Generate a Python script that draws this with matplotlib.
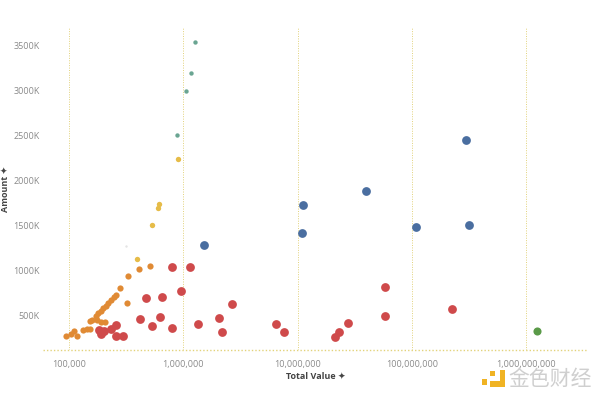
import matplotlib
matplotlib.use("Agg")
import matplotlib.pyplot as plt
from matplotlib.patches import Rectangle
from matplotlib.ticker import FuncFormatter, FixedLocator

plt.rcParams["font.family"] = ["Open Sans", "DejaVu Sans"]

# values (Total Value, Amount)
teal_value = [1.253e6, 1.163e6, 1.052e6, 0.877e6]
teal_amount = [3545e3, 3200e3, 3000e3, 2505e3]

yellow_value = [895e3, 616e3, 599e3, 531e3, 396e3]
yellow_amount = [2240e3, 1745e3, 1700e3, 1510e3, 1127e3]

blue_value = [1.52e6, 11.15e6, 10.84e6, 39.6e6, 296e6, 108.9e6, 318e6]
blue_amount = [1286e3, 1731e3, 1416e3, 1890e3, 2450e3, 1486e3, 1505e3]

green_value = [1.248e9]
green_amount = [329e3]

red_value = [794e3, 1.133e6, 945e3, 468e3, 654e3, 414e3, 622e3, 535e3, 794e3,
             1.349e6, 2.03e6, 2.17e6, 2.64e6, 6.43e6, 7.65e6, 21.0e6, 23.0e6,
             27.3e6, 58.6e6, 58.1e6, 224e6, 258e3, 233e3, 203e3, 191e3, 182e3,
             259e3, 299e3]
red_amount = [1044e3, 1041e3, 769e3, 700e3, 711e3, 466e3, 488e3, 383e3, 363e3,
              410e3, 477e3, 315e3, 630e3, 407e3, 315e3, 266e3, 321e3,
              418e3, 815e3, 499e3, 574e3, 394e3, 355e3, 329e3, 296e3, 340e3,
              274e3, 274e3]

orange_value = [93.6e3, 103.5e3, 110.6e3, 118.4e3, 131.7e3, 142.7e3, 152.2e3,
                151.6e3, 160.1e3, 172.1e3, 179.9e3, 189.2e3, 198.1e3, 209.2e3,
                219e3, 231e3, 248e3, 258e3, 281e3, 321e3, 330e3, 412e3, 514e3,
                174.6e3, 189.2e3, 206e3]
orange_amount = [279e3, 301e3, 329e3, 277e3, 340e3, 357e3, 357e3,
                 435e3, 452e3, 496e3, 524e3, 552e3, 580e3, 607e3,
                 635e3, 669e3, 707e3, 730e3, 811e3, 644e3, 941e3, 1021e3, 1054e3,
                 446e3, 424e3, 433e3]

gray_value = [313e3]
gray_amount = [1278e3]

x_ticks = [1e5, 1e6, 1e7, 1e8, 1e9]
x_tick_labels = ["100,000", "1,000,000", "10,000,000", "100,000,000", "1,000,000,000"]
y_ticks = [500e3, 1000e3, 1500e3, 2000e3, 2500e3, 3000e3, 3500e3]


def main():
    fig = plt.figure(figsize=(6, 3.99), dpi=100)
    ax = fig.add_axes([0.0712, 0.122, 0.9088, 0.8078])

    grid_color = "#e2d27a"
    dots = (0, (1, 1.5))
    for v in x_ticks:
        ax.axvline(v, color=grid_color, lw=0.7, ls=dots, zorder=0)
    ax.axhline(114.6e3, color=grid_color, lw=1.0, ls=dots, zorder=0, clip_on=False)

    ax.scatter(gray_value, gray_amount, s=3, color="#e4e4e4", lw=0, zorder=2)
    ax.scatter(orange_value, orange_amount, s=20, color="#e08a34", lw=0, zorder=3)
    ax.scatter(red_value, red_amount, s=40, color="#cf4a4b", lw=0, zorder=3)
    ax.scatter(yellow_value, yellow_amount, s=15, color="#e6bc48", lw=0, zorder=3)
    ax.scatter(teal_value, teal_amount, s=10, color="#6aa592", lw=0, zorder=3)
    ax.scatter(blue_value, blue_amount, s=40, color="#4a6ea0", lw=0, zorder=3)
    ax.scatter(green_value, green_amount, s=34, color="#5a9a48", lw=0, zorder=3)

    ax.set_xscale("log")
    ax.set_xlim(5.89e4, 3.46e9)
    ax.set_ylim(114.6e3, 3696e3)

    ax.xaxis.set_major_locator(FixedLocator(x_ticks))
    ax.set_xticklabels(x_tick_labels)
    ax.xaxis.set_minor_locator(FixedLocator([]))
    ax.yaxis.set_major_locator(FixedLocator(y_ticks))
    ax.yaxis.set_major_formatter(FuncFormatter(lambda v, p: f"{v / 1000:.0f}K"))

    ax.tick_params(axis="x", length=0, pad=7, labelsize=6.5, labelcolor="#8a8a8a")
    ax.tick_params(axis="y", length=0, pad=2, labelsize=6.5, labelcolor="#8a8a8a")

    for side in ["top", "right", "left", "bottom"]:
        ax.spines[side].set_visible(False)

    ax.set_xlabel("Total Value ✦", fontsize=6.5, fontweight="bold",
                  color="#444444", labelpad=2)
    ax.set_ylabel("Amount ✦", fontsize=6.5, fontweight="bold",
                  color="#444444", labelpad=2)

    # watermark logo
    logo = "#f0b323"
    for x0, y0, w, h in [(481.7, 379, 5.5, 5.5), (490, 371, 4.8, 4.8),
                         (490, 380.5, 15, 6.5), (500, 369.5, 5, 17.5)]:
        fig.patches.append(Rectangle((x0 / 600, 1 - (y0 + h) / 399), w / 600, h / 399,
                                     transform=fig.transFigure, color=logo, lw=0))
    fig.text(550 / 600, 1 - 378.5 / 399, "金色财经", fontsize=15, color="#cfcfcf",
             ha="center", va="center", family=["Noto Sans CJK SC", "DejaVu Sans"])

    fig.savefig("out.png", dpi=100)
    plt.close(fig)


if __name__ == "__main__":
    main()
